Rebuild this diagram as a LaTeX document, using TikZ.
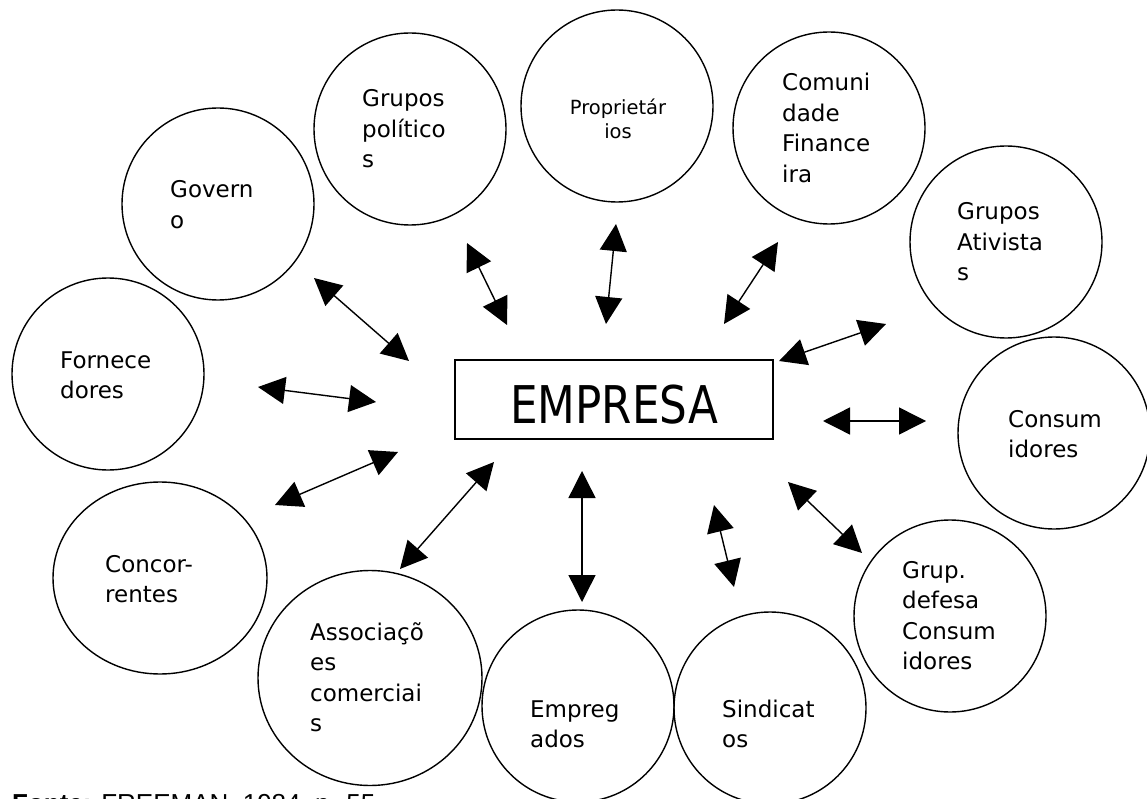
\documentclass[tikz,border=0pt]{standalone}
\usepackage{fontspec}
\usepackage{graphicx}
\setmainfont{DejaVu Sans}
\newfontfamily\fontefont{Liberation Sans}
\usetikzlibrary{arrows.meta,shapes.geometric}
\begin{document}
\begin{tikzpicture}[x=1pt,y=-1pt,
  party/.style={circle, draw, line width=1.4pt, minimum size=192pt, inner sep=0pt},
  oval/.style={ellipse, draw, line width=1.4pt, inner sep=0pt},
  lbl/.style={anchor=base west, align=left, inner sep=0pt, font=\fontsize{23}{30.5}\selectfont},
  biarrow/.style={{Triangle[length=27pt,width=27pt]}-{Triangle[length=27pt,width=27pt]}, line width=1.4pt},
  firm/.style={draw, line width=1.8pt, minimum width=318pt, minimum height=79pt, inner sep=0pt}]
\useasboundingbox (0,0) rectangle (1147,799);
\clip (0,0) rectangle (1147,799);

% circles
\node[party] (gov) at (218,204) {};
\node[party] (forn) at (108,374) {};
\node[oval, minimum width=214pt, minimum height=192pt] (conc) at (160,578) {};
\node[oval, minimum width=224pt, minimum height=215pt] (assoc) at (370,678) {};
\node[party] (empr) at (578,706) {};
\node[party] (sind) at (770,708) {};
\node[party] (gdef) at (950,616) {};
\node[party] (cons) at (1054,433) {};
\node[party] (ativ) at (1006,242) {};
\node[party] (fin) at (829,128) {};
\node[party] (prop) at (617,106) {};
\node[party] (pol) at (410,129) {};

% texts (anchor at the baseline of the last line)
\node[lbl] (tgov) at (170,228.5) {Govern\\o};
\node[lbl] (tforn) at (60,398.5) {Fornece\\dores};
\node[lbl] (tconc) at (105,602.5) {Concor-\\rentes};
\node[lbl] (tassoc) at (310,731.5) {Associaçõ\\es\\comerciai\\s};
\node[lbl] (tempr) at (530,747.5) {Empreg\\ados};
\node[lbl] (tsind) at (722,747.5) {Sindicat\\os};
\node[lbl] (tgdef) at (902,669.5) {Grup.\\defesa\\Consum\\idores};
\node[lbl] (tcons) at (1008,457.5) {Consum\\idores};
\node[lbl] (tativ) at (957,281) {Grupos\\Ativista\\s};
\node[lbl] (tfin) at (782,182.5) {Comuni\\dade\\Finance\\ira};
\node[anchor=base, align=center, inner sep=0pt, font=\fontsize{19.5}{24}\selectfont] (tprop) at (618,139) {Proprietár\\ios};
\node[lbl] (tpol) at (362,168) {Grupos\\político\\s};

% central box
\node[firm] (emp) at (614,399.5) {};
\node[anchor=base, inner sep=0pt, font=\fontsize{52}{60}\selectfont] (temp) at (614,423) {\scalebox{0.84}[1]{EMPRESA}};

% arrow end points
\coordinate (g1) at (314,278);  \coordinate (g2) at (409,361);
\coordinate (p1) at (467,243);  \coordinate (p2) at (507,325);
\coordinate (o1) at (616,224);  \coordinate (o2) at (606,324);
\coordinate (f1) at (778,242);  \coordinate (f2) at (724,324);
\coordinate (a1) at (886,324);  \coordinate (a2) at (779,361);
\coordinate (c1) at (926,421);  \coordinate (c2) at (823,421);
\coordinate (d1) at (862,553);  \coordinate (d2) at (788,482);
\coordinate (s1) at (734,587);  \coordinate (s2) at (714,505);
\coordinate (e1) at (582,602);  \coordinate (e2) at (582,471);
\coordinate (k1) at (400,569);  \coordinate (k2) at (494,462);
\coordinate (r1) at (275,505);  \coordinate (r2) at (398,452);
\coordinate (n1) at (258,387);  \coordinate (n2) at (376,402);

\draw[biarrow] (g1) -- (g2);
\draw[biarrow] (p1) -- (p2);
\draw[biarrow] (o1) -- (o2);
\draw[biarrow] (f1) -- (f2);
\draw[biarrow] (a1) -- (a2);
\draw[biarrow] (c1) -- (c2);
\draw[biarrow] (d1) -- (d2);
\draw[biarrow] (s1) -- (s2);
\draw[biarrow] (e1) -- (e2);
\draw[biarrow] (k1) -- (k2);
\draw[biarrow] (r1) -- (r2);
\draw[biarrow] (n1) -- (n2);

% source line (cut at the bottom)
\node[anchor=base west, inner sep=0pt, font=\fontefont\fontsize{26}{30}\selectfont] (src) at (12,812) {\textbf{Fonte:} FREEMAN, 1984, p. 55};
\end{tikzpicture}
\end{document}
